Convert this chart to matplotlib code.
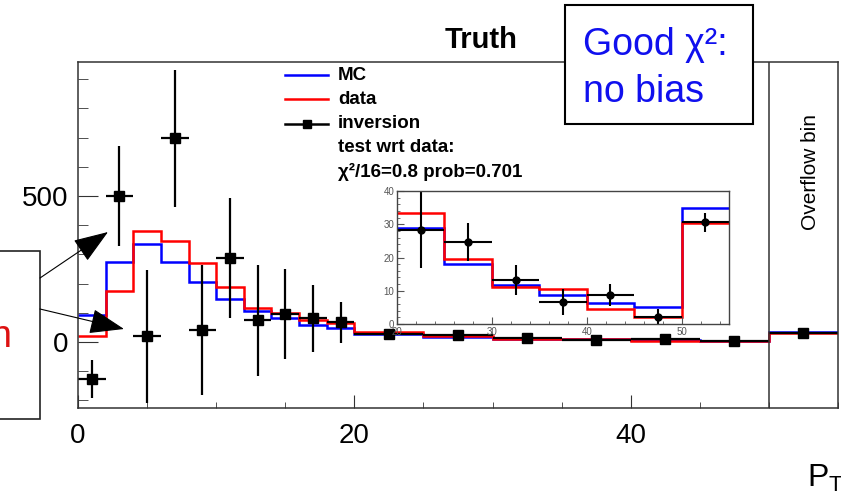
import numpy as np
import matplotlib
matplotlib.use('Agg')
import matplotlib.pyplot as plt
from matplotlib.lines import Line2D
from matplotlib.patches import Rectangle, FancyArrowPatch
from matplotlib.ticker import MultipleLocator, FixedLocator

plt.rcParams['font.family'] = ['Liberation Sans', 'DejaVu Sans']

# Bin-Grenzen (letzter Bin = Overflow)
edges = [0, 2, 4, 6, 8, 10, 12, 14, 16, 18, 20, 25, 30, 35, 40, 45, 50, 55]
# MC (blau), data (rot), inversion (schwarz) mit Fehlern
mc = [92, 275, 334, 273, 206, 146, 105, 83, 58, 47, 28.9, 18.0, 11.8, 8.8, 6.2, 5.0, 34.8]
data = [22, 175, 380, 346, 271, 189, 118, 98, 75, 64, 33.5, 19.5, 11.1, 10.6, 4.4, 2.2, 30.4]
inv = [-127, 500, 20, 697, 41, 287, 75, 96, 81, 67, 28.4, 24.7, 13.3, 6.75, 8.8, 2.2, 30.6]
inv_err = [66, 170, 228, 234, 222, 205, 190, 155, 115, 70, 11.6, 5.8, 4.5, 3.9, 3.3, 2.4, 2.8]

W, H = 841, 497
e = np.array(edges, dtype=float)
centers = (e[:-1] + e[1:]) / 2
halfw = (e[1:] - e[:-1]) / 2


def px(x, y):
    return (x / W, 1 - y / H)


fig = plt.figure(figsize=(W / 100, H / 100), dpi=100)
ax = fig.add_axes([78 / W, (H - 408) / H, 760 / W, 346 / H])

ax.stairs(mc, edges, baseline=None, color='blue', lw=1.8)
ax.stairs(data, edges, baseline=None, color='red', lw=1.8)
ax.errorbar(centers, inv, xerr=halfw, yerr=inv_err, fmt='s', color='black',
            ms=7, lw=1.6, capsize=0)
ax.axvline(50, color='#333333', lw=1.1)

ax.set_xlim(0, 55)
ax.set_ylim(-226, 959)
ax.xaxis.set_major_locator(FixedLocator([0, 20, 40]))
ax.xaxis.set_minor_locator(MultipleLocator(5))
ax.yaxis.set_major_locator(FixedLocator([0, 500]))
ax.yaxis.set_minor_locator(MultipleLocator(100))
ax.tick_params(which='both', direction='in', labelsize=20, colors='#333333',
               labelcolor='black')
ax.tick_params(axis='y', which='major', length=14.5, pad=7)
ax.tick_params(axis='y', which='minor', length=7)
ax.tick_params(axis='x', which='major', length=9.5, pad=11)
ax.tick_params(axis='x', which='minor', length=4.5)
for s in ax.spines.values():
    s.set_color('#333333')
    s.set_linewidth(1.1)

# Inset 20-55
ins = fig.add_axes([397 / W, (H - 324) / H, 332 / W, 133 / H])
ins.stairs(mc[10:], edges[10:], baseline=None, color='blue', lw=1.8)
ins.stairs(data[10:], edges[10:], baseline=None, color='red', lw=1.8)
ins.errorbar(centers[10:], inv[10:], xerr=halfw[10:], yerr=inv_err[10:], fmt='o',
             color='black', ms=5, lw=1.5, capsize=0)
ins.set_xlim(20, 55)
ins.set_ylim(0, 40)
ins.xaxis.set_major_locator(FixedLocator([20, 30, 40, 50]))
ins.xaxis.set_minor_locator(MultipleLocator(2))
ins.yaxis.set_major_locator(MultipleLocator(10))
ins.yaxis.set_minor_locator(MultipleLocator(2))
ins.tick_params(which='both', direction='in', labelsize=7, colors='#555555', pad=2)
ins.tick_params(which='major', length=5)
ins.tick_params(which='minor', length=2.5)
for s in ins.spines.values():
    s.set_color('#444444')
    s.set_linewidth(1.0)

# Legende
rows = [('MC', 75, 'blue', None), ('data', 99, 'red', None), ('inversion', 124, 'black', 's')]
for lab, yy, col, mk in rows:
    x0, y0 = px(285, yy)
    x1, _ = px(328, yy)
    fig.add_artist(Line2D([x0, x1], [y0, y0], transform=fig.transFigure, color=col, lw=1.8))
    if mk:
        fig.add_artist(Line2D([(x0 + x1) / 2], [y0], transform=fig.transFigure, color=col,
                              marker=mk, ms=6))
    fig.text(*px(338, yy), lab, fontsize=13.5, fontweight='bold', va='center', ha='left')
fig.text(*px(338, 147), 'test wrt data:', fontsize=13.5, fontweight='bold', va='center')
fig.text(*px(338, 172), 'χ²/16=0.8 prob=0.701', fontsize=13.5, fontweight='bold', va='center')

fig.text(*px(481, 40), 'Truth', fontsize=21, fontweight='bold', ha='center', va='center')

# Kasten "Good chi2"
x0, y0 = px(565, 124)
box = Rectangle((x0, y0), 188 / W, 119 / H, transform=fig.transFigure,
                facecolor='white', edgecolor='black', lw=1.5, zorder=5)
fig.add_artist(box)
fig.text(*px(583, 55), 'Good χ²:', fontsize=27, color='#1010ee', va='baseline', zorder=6)
fig.text(*px(583, 102), 'no bias', fontsize=27, color='#1010ee', va='baseline', zorder=6)

# linker Kasten mit Pfeilen
x0, y0 = px(-5, 419)
fig.add_artist(Rectangle((x0, y0), 45 / W, 168 / H, transform=fig.transFigure,
                         facecolor='none', edgecolor='#222222', lw=1.2))
fig.text(*px(11, 337), 'n', fontsize=27, color='#dd1111', ha='right', va='center')
for a, b in [((40, 278), (108, 232)), ((40, 309), (124, 329))]:
    fig.add_artist(FancyArrowPatch(px(*a), px(*b), transform=fig.transFigure,
                                   arrowstyle='-|>,head_length=1.1,head_width=0.4',
                                   mutation_scale=20, color='black', lw=0.8,
                                   shrinkA=0, shrinkB=0))

fig.text(*px(811, 172), 'Overflow bin', fontsize=15, rotation=90, ha='center', va='center')
fig.text(*px(807, 487), r'P$_{\mathregular{T}}$', fontsize=23, ha='left', va='baseline')

fig.savefig('out.png', dpi=100)
